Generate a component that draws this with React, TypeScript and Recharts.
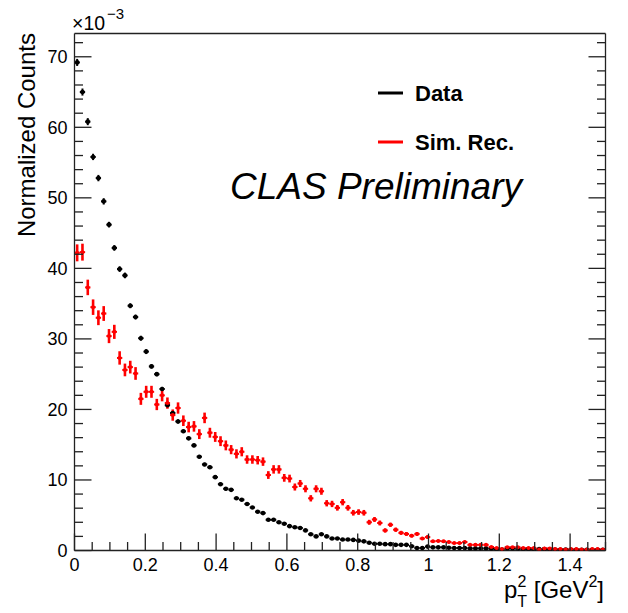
import React from "react";
import { ScatterChart, Scatter, XAxis, YAxis, ErrorBar } from "recharts";

// p_T^2 histogram, 100 bins of 0.015 GeV^2, counts in units of 1e-3
const binWidth = 0.015;

const dataCounts = [
  69.2, 65.0, 60.8, 55.8, 52.8, 49.5, 46.2, 42.9, 39.9, 39.0,
  34.7, 33.1, 30.1, 28.2, 26.1, 25.0, 22.9, 20.6, 19.5, 18.3,
  16.9, 15.9, 14.9, 13.3, 12.2, 11.8, 10.4, 9.4, 8.75, 8.6,
  7.4, 7.2, 6.6, 6.1, 5.5, 5.3, 4.35, 4.35, 4.0, 3.8,
  3.45, 3.3, 3.2, 2.85, 2.3, 2.0, 2.3, 2.0, 1.7, 1.7,
  1.55, 1.55, 1.5, 1.4, 1.3, 1.1, 0.95, 0.95, 0.9, 0.9,
  0.8, 0.8, 0.8, 0.6, 0.35, 0.35, 0.55, 0.45, 0.45, 0.45,
  0.4, 0.35, 0.35, 0.35, 0.3, 0.3, 0.3, 0.3, 0.25, 0.15,
  0.15, 0.3, 0.3, 0.25, 0.2, 0.2, 0.15, 0.2, 0.2, 0.15,
  0.15, 0.1, 0.15, 0.1, 0.1, 0.1, 0.1, 0.1, 0.1, 0.1,
];

const dataErrors = [
  0.5, 0.5, 0.5, 0.45, 0.45, 0.45, 0.4, 0.4, 0.4, 0.4,
  0.35, 0.35, 0.35, 0.35, 0.3, 0.3, 0.3, 0.3, 0.3, 0.3,
  0.25, 0.25, 0.25, 0.25, 0.25, 0.25, 0.25, 0.25, 0.25, 0.25,
  0.2, 0.2, 0.2, 0.2, 0.2, 0.2, 0.2, 0.2, 0.2, 0.2,
  0.15, 0.15, 0.15, 0.15, 0.15, 0.15, 0.15, 0.15, 0.15, 0.15,
  0.1, 0.1, 0.1, 0.1, 0.1, 0.1, 0.1, 0.1, 0.1, 0.1,
  0.1, 0.1, 0.1, 0.1, 0.1, 0.1, 0.1, 0.1, 0.1, 0.1,
  0.1, 0.1, 0.1, 0.1, 0.1, 0.1, 0.1, 0.1, 0.1, 0.1,
  0.1, 0.1, 0.1, 0.1, 0.1, 0.1, 0.1, 0.1, 0.1, 0.1,
  0.1, 0.1, 0.1, 0.1, 0.1, 0.1, 0.1, 0.1, 0.1, 0.1,
];

const simCounts = [
  42.2, 42.3, 37.3, 34.5, 33.0, 33.6, 30.4, 31.0, 27.3, 25.6,
  26.0, 25.1, 21.5, 22.5, 22.5, 20.7, 22.0, 20.9, 19.2, 20.2,
  18.4, 17.5, 17.6, 16.5, 18.8, 16.7, 16.1, 15.5, 14.9, 14.3,
  13.7, 14.0, 12.9, 12.9, 12.8, 12.6, 10.7, 11.5, 11.5, 10.3,
  10.2, 9.0, 9.5, 8.75, 7.4, 8.75, 8.4, 6.7, 6.6, 6.05,
  6.85, 6.05, 5.35, 5.45, 5.35, 4.0, 4.4, 3.9, 2.85, 3.65,
  2.95, 2.5, 2.35, 2.1, 2.35, 1.7, 1.9, 1.3, 1.35, 1.3,
  1.2, 1.05, 1.05, 1.2, 0.8, 0.8, 0.8, 0.8, 0.5, 0.35,
  0.2, 0.45, 0.45, 0.45, 0.35, 0.35, 0.35, 0.15, 0.3, 0.3,
  0.2, 0.2, 0.15, 0.2, 0.2, 0.15, 0.15, 0.2, 0.2, 0.15,
];

const simErrors = [
  1.2, 1.2, 1.1, 1.1, 1.05, 1.05, 1.0, 1.0, 0.95, 0.9,
  0.9, 0.9, 0.85, 0.85, 0.85, 0.8, 0.85, 0.8, 0.8, 0.8,
  0.75, 0.75, 0.75, 0.7, 0.75, 0.7, 0.7, 0.7, 0.7, 0.65,
  0.65, 0.65, 0.6, 0.6, 0.6, 0.6, 0.55, 0.6, 0.6, 0.55,
  0.55, 0.5, 0.5, 0.5, 0.45, 0.5, 0.5, 0.45, 0.45, 0.4,
  0.45, 0.4, 0.4, 0.4, 0.4, 0.35, 0.35, 0.35, 0.3, 0.3,
  0.3, 0.28, 0.27, 0.25, 0.27, 0.22, 0.24, 0.2, 0.2, 0.2,
  0.2, 0.18, 0.18, 0.2, 0.15, 0.15, 0.15, 0.15, 0.12, 0.1,
  0.08, 0.1, 0.1, 0.1, 0.1, 0.1, 0.1, 0.08, 0.1, 0.1,
  0.08, 0.08, 0.08, 0.08, 0.08, 0.08, 0.08, 0.08, 0.08, 0.08,
];

const xTicks = [
  0, 0.05, 0.1, 0.15, 0.2, 0.25, 0.3, 0.35, 0.4, 0.45, 0.5, 0.55, 0.6, 0.65, 0.7,
  0.75, 0.8, 0.85, 0.9, 0.95, 1, 1.05, 1.1, 1.15, 1.2, 1.25, 1.3, 1.35, 1.4, 1.45, 1.5,
];
const xMajor = [0, 0.2, 0.4, 0.6, 0.8, 1, 1.2, 1.4];

const yTicks = [
  0, 2, 4, 6, 8, 10, 12, 14, 16, 18, 20, 22, 24, 26, 28, 30, 32, 34, 36,
  38, 40, 42, 44, 46, 48, 50, 52, 54, 56, 58, 60, 62, 64, 66, 68, 70, 72,
];
const yMajor = [0, 10, 20, 30, 40, 50, 60, 70];

const W = 628;
const H = 613;
const LEFT = 74.5;
const RIGHT = 605.5;
const TOP = 33.5;
const BOTTOM = 550.5;
const FONT = "'Liberation Sans', Arial, Helvetica, sans-serif";
const AXIS = "#222";

const toPoints = (counts: number[], errs: number[]) =>
  counts.map((v, i) => ({
    x: (i + 0.5) * binWidth,
    y: v,
    ex: binWidth / 2,
    ey: errs[i],
  }));

const dataPts = toPoints(dataCounts, dataErrors);
const simPts = toPoints(simCounts, simErrors);

const isMajor = (list: number[], v: number) => list.some((m) => Math.abs(m - v) < 1e-6);

function BottomTick(props: any) {
  const { x, payload } = props;
  const major = isMajor(xMajor, payload.value);
  return (
    <g>
      <line x1={x} x2={x} y1={BOTTOM} y2={BOTTOM - (major ? 17 : 8.5)} stroke={AXIS} strokeWidth={1.3} />
      {major && (
        <text x={x} y={BOTTOM + 20} textAnchor="middle" fontSize={18} fontFamily={FONT} fill="#000">
          {String(payload.value)}
        </text>
      )}
    </g>
  );
}

function TopTick(props: any) {
  const { x, payload } = props;
  const major = isMajor(xMajor, payload.value);
  return <line x1={x} x2={x} y1={TOP} y2={TOP + (major ? 17 : 8.5)} stroke={AXIS} strokeWidth={1.3} />;
}

function LeftTick(props: any) {
  const { y, payload } = props;
  const major = isMajor(yMajor, payload.value);
  return (
    <g>
      <line x1={LEFT} x2={LEFT + (major ? 17 : 8.5)} y1={y} y2={y} stroke={AXIS} strokeWidth={1.3} />
      {major && (
        <text x={LEFT - 7} y={y + 6.5} textAnchor="end" fontSize={18} fontFamily={FONT} fill="#000">
          {String(payload.value)}
        </text>
      )}
    </g>
  );
}

function RightTick(props: any) {
  const { y, payload } = props;
  const major = isMajor(yMajor, payload.value);
  return <line x1={RIGHT} x2={RIGHT - (major ? 17 : 8.5)} y1={y} y2={y} stroke={AXIS} strokeWidth={1.3} />;
}

const dot = (color: string, r: number) => (p: any) =>
  <circle cx={p.cx} cy={p.cy} r={r} fill={color} />;

export default function App() {
  return (
    <div style={{ position: "absolute", left: 0, top: 0, width: W, height: H, background: "#fff" }}>
      <ScatterChart
        width={W}
        height={H}
        margin={{ top: TOP - 1, right: W - RIGHT - 1, bottom: 0, left: 0 }}
      >
        <XAxis
          dataKey="x"
          type="number"
          domain={[0, 1.5]}
          allowDataOverflow
          ticks={xTicks}
          interval={0}
          height={H - BOTTOM}
          tickLine={false}
          tickSize={0}
          tickMargin={0}
          axisLine={{ stroke: AXIS, strokeWidth: 1.3 }}
          tick={<BottomTick />}
        />
        <XAxis
          xAxisId="top"
          orientation="top"
          type="number"
          domain={[0, 1.5]}
          allowDataOverflow
          ticks={xTicks}
          interval={0}
          height={1}
          tickLine={false}
          tickSize={0}
          axisLine={{ stroke: AXIS, strokeWidth: 1.3 }}
          tick={<TopTick />}
        />
        <YAxis
          dataKey="y"
          type="number"
          domain={[0, 73.3]}
          allowDataOverflow
          ticks={yTicks}
          interval={0}
          width={LEFT}
          tickLine={false}
          tickSize={0}
          tickMargin={0}
          axisLine={{ stroke: AXIS, strokeWidth: 1.3 }}
          tick={<LeftTick />}
        />
        <YAxis
          yAxisId="right"
          orientation="right"
          type="number"
          domain={[0, 73.3]}
          allowDataOverflow
          ticks={yTicks}
          interval={0}
          width={1}
          tickLine={false}
          tickSize={0}
          axisLine={{ stroke: AXIS, strokeWidth: 1.3 }}
          tick={<RightTick />}
        />
        <Scatter data={dataPts} fill="#000" shape={dot("#000", 2.3)} isAnimationActive={false}>
          <ErrorBar dataKey="ey" direction="y" width={0} stroke="#000" strokeWidth={2} isAnimationActive={false} />
          <ErrorBar dataKey="ex" direction="x" width={0} stroke="#000" strokeWidth={2} isAnimationActive={false} />
        </Scatter>
        <Scatter data={simPts} fill="#f00" shape={dot("#f00", 2)} isAnimationActive={false}>
          <ErrorBar dataKey="ey" direction="y" width={0} stroke="#f00" strokeWidth={2.6} isAnimationActive={false} />
          <ErrorBar dataKey="ex" direction="x" width={0} stroke="#f00" strokeWidth={2} isAnimationActive={false} />
        </Scatter>
      </ScatterChart>
      <svg
        width={W}
        height={H}
        style={{ position: "absolute", left: 0, top: 0, pointerEvents: "none" }}
        fontFamily={FONT}
      >
        <text x={72} y={30} fontSize={19.5} fill="#000">×10</text>
        <text x={107} y={19} fontSize={15} fill="#000">−3</text>
        <text
          transform="translate(35, 33) rotate(-90)"
          textAnchor="end"
          fontSize={24}
          fill="#000"
        >
          Normalized Counts
        </text>
        <text x={604} y={598} textAnchor="end" fontSize={24} fill="#000">
          <tspan>p</tspan>
          <tspan fontSize={16} dy={-11}>2</tspan>
          <tspan fontSize={16} dx={-9} dy={20}>T</tspan>
          <tspan dy={-9}> [GeV</tspan>
          <tspan fontSize={16} dy={-11}>2</tspan>
          <tspan dy={11}>]</tspan>
        </text>
        <line x1={378} x2={403} y1={93} y2={93} stroke="#000" strokeWidth={3} />
        <text x={415} y={101} fontSize={22} fontWeight="bold" fill="#000">Data</text>
        <line x1={378} x2={403} y1={142} y2={142} stroke="#f00" strokeWidth={3} />
        <text x={415} y={150} fontSize={22} fontWeight="bold" fill="#000">Sim. Rec.</text>
        <text x={230} y={199} fontSize={37} fontStyle="italic" fill="#000">CLAS Preliminary</text>
      </svg>
    </div>
  );
}
